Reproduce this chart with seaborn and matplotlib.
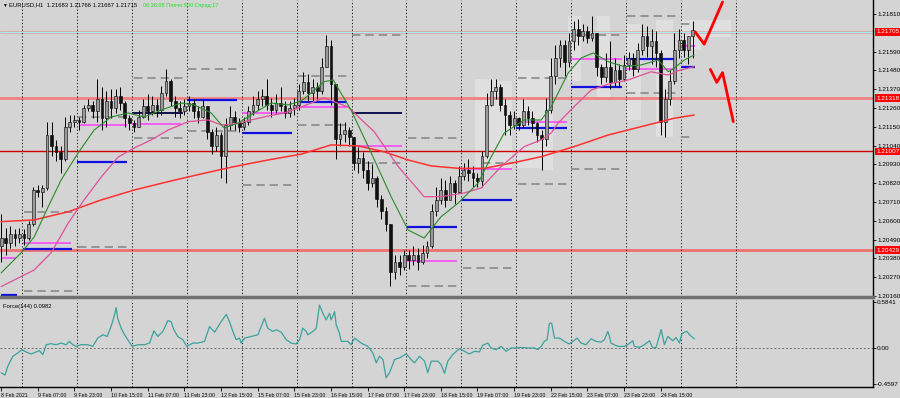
import numpy as np
import pandas as pd
import matplotlib
matplotlib.use("Agg")
import matplotlib.pyplot as plt
import seaborn as sns
from matplotlib.patches import Rectangle

# EURUSD H1, drawn as 2-hour candles. Prices are pips above 1.20000
first_open = 45
closes = [50, 47, 52, 50, 52, 50, 58, 78, 77, 79,
          110, 104, 100, 96, 115, 118, 119, 118, 126, 128,
          124, 131, 120, 130, 126, 133, 129, 120, 117, 115,
          121, 127, 124, 128, 125, 135, 142, 130, 126, 124,
          127, 129, 124, 121, 127, 112, 104, 110, 98, 116,
          121, 118, 115, 118, 124, 128, 131, 133, 128, 125,
          129, 127, 123, 126, 128, 136, 141, 135, 138, 136,
          150, 162, 140, 108, 111, 113, 109, 94, 97, 90,
          82, 85, 73, 66, 58, 30, 36, 33, 40, 37,
          40, 36, 41, 45, 66, 72, 78, 72, 82, 77,
          86, 90, 88, 85, 83, 98, 128, 136, 138, 128,
          122, 116, 120, 116, 124, 120, 117, 110, 108, 125,
          145, 155, 163, 153, 165, 172, 168, 171, 167, 170,
          150, 144, 150, 141, 148, 143, 151, 155, 149, 160,
          168, 162, 165, 158, 118, 131, 142, 160, 166, 160,
          168, 171.5]
highs = [64, 56, 57, 55, 56, 55, 60, 80, 81, 81,
         118, 118, 107, 104, 121, 122, 122, 121, 128, 131,
         130, 143, 138, 136, 137, 137, 138, 130, 122, 119,
         125, 131, 134, 133, 131, 139, 149, 143, 133, 130,
         131, 133, 131, 127, 131, 127, 114, 115, 112, 120,
         127, 124, 120, 121, 127, 133, 136, 137, 143, 132,
         134, 138, 130, 130, 132, 140, 147, 146, 143, 141,
         155, 169, 166, 128, 117, 118, 115, 108, 103, 100,
         95, 93, 86, 75, 68, 57, 40, 40, 43, 43,
         45, 44, 46, 48, 70, 80, 85, 84, 86, 84,
         92, 94, 96, 92, 88, 101, 135, 143, 143, 140,
         131, 124, 124, 121, 131, 127, 124, 118, 113, 132,
         155, 163, 166, 166, 170, 177, 178, 175, 174, 180,
         170, 152, 158, 165, 155, 152, 157, 159, 158, 164,
         175, 174, 172, 171, 160, 137, 148, 170, 172, 170,
         166, 177]
lows = [36, 40, 44, 45, 47, 46, 49, 57, 74, 68,
        78, 98, 95, 88, 95, 112, 115, 113, 117, 124,
        120, 118, 113, 115, 120, 123, 125, 115, 113, 112,
        115, 120, 119, 122, 121, 122, 133, 127, 121, 120,
        122, 124, 120, 117, 120, 108, 99, 101, 85, 82,
        113, 113, 112, 113, 116, 122, 125, 127, 125, 121,
        123, 124, 120, 121, 122, 125, 134, 130, 130, 131,
        134, 150, 128, 96, 104, 106, 104, 90, 88, 85,
        78, 80, 68, 61, 54, 22, 26, 28, 31, 32,
        34, 31, 35, 38, 44, 63, 70, 68, 72, 70,
        76, 84, 83, 80, 80, 80, 97, 127, 131, 124,
        110, 110, 114, 113, 115, 116, 112, 106, 90, 104,
        123, 140, 150, 145, 150, 160, 163, 165, 164, 165,
        145, 140, 141, 137, 139, 138, 142, 148, 145, 147,
        157, 156, 152, 150, 110, 109, 128, 140, 155, 156,
        152, 155]

# moving averages (hour, pips)
ma_fast_h = [0, 8.7, 14.4, 20.5, 26.2, 33.6, 40.6, 48, 55.5, 62.4, 69.9, 78.6, 84.3, 91.7, 97.4,
             103.5, 110.5, 117.9, 125.3, 131, 135.4, 141, 145, 152.8, 161.6, 170.3, 177.7, 184.7,
             192.1, 199.6, 208.3, 214, 219.7, 228.4, 235.8, 240.2, 247.6, 253.3, 258.5, 265.1,
             272, 279.5, 286.9, 291.3, 293.9, 298.3, 302.6]
ma_fast_p = [29.5, 41.2, 50.5, 68.1, 83.9, 99.7, 113.1, 120.7, 123.1, 120.7, 124.8, 128.9, 127.8,
             123.1, 114.3, 117.2, 123.1, 128.9, 127.8, 130.1, 134.8, 141.4, 142.4, 124.8, 99.7,
             74.1, 54.6, 49.9, 62.4, 70.4, 82.1, 97.5, 111.4, 119, 119, 126.8, 146.5, 155.3,
             158.2, 153.1, 150.2, 151.2, 154.1, 147.2, 149.4, 154.1, 157]
ma_mid_h = [0, 14.4, 21.8, 29.3, 36.2, 43.7, 51.1, 58.1, 65.5, 72.9, 81.7, 90.4, 96.1, 101.7, 109.2,
            116.6, 123.6, 131, 141, 151.5, 162.9, 173.4, 184.7, 192.1, 202.2, 209.6, 218.3, 228.4,
            235.8, 240.2, 243.2, 250.2, 257.6, 265.1, 273.8, 283.8, 291.3, 295.6, 302.6]
ma_mid_p = [21.5, 31.2, 41.2, 58.7, 72.2, 85.6, 97.3, 102.6, 107.3, 113.1, 118, 119, 116.1, 116.6,
            119, 121.3, 123.1, 126.6, 131.9, 126.6, 112.1, 91.7, 74.1, 74.1, 76.3, 79.2, 91.7,
            103.4, 107.3, 111.4, 117.2, 126.8, 136.5, 140, 142.4, 147.2, 145.3, 147.8, 150.2]
ma_slow_h = [0, 14.4, 29.3, 43.7, 58.1, 72.9, 87.3, 101.7, 116.6, 131, 144.1, 155.9, 167.2, 177.7,
             187.8, 199.6, 210.9, 222.7, 235.8, 250.2, 265.1, 279.5, 293.9, 302.6]
ma_slow_p = [59.5, 60.5, 65.3, 72.2, 78, 82.9, 87.4, 91.7, 95.6, 99, 104.4, 103.8, 100.4, 95.6,
             92.1, 90.7, 90.7, 93.7, 97.5, 103.4, 110.2, 115.1, 120, 121.9]

# daily level segments (start hour, end hour, pips)
blue_segs = [(0, 7, 16.6), (9.6, 31, 43.7), (33, 55, 94.2), (81, 103, 130.5), (105, 127, 111.2),
             (129, 151, 129.5), (177, 199, 56.2), (201, 223, 72), (225, 247, 114.2),
             (249, 271, 138.1), (273, 295, 154.5), (297, 303, 149.8)]
navy_segs = [(57, 79.5, 122.9), (153, 175, 122.9)]
magenta_segs = [(0, 6.5, 38.3), (9.6, 30.6, 47.2), (34, 55, 116), (57, 78.6, 116.5),
                (105, 126.6, 122.9), (129, 151, 126.4), (153, 175, 104), (177, 199, 36.5),
                (201, 223, 90.3), (225, 247, 117.8), (249, 271, 154.7), (273, 295, 148.7),
                (297, 303, 162.5)]
dashed_segs = [(10, 32, 65), (10, 32, 19.1), (33.6, 56, 120.9), (33.6, 56, 44.8),
               (58, 80, 143.4), (58, 80, 108.3), (81.7, 103.5, 148.6), (81.7, 103.5, 112.7),
               (105.7, 128, 81), (129.7, 151.5, 144.7), (129.7, 151.5, 115.9),
               (153, 175.5, 168.7), (153, 175, 94), (177.7, 199.6, 108.3), (177.7, 199.6, 22),
               (201.7, 223.6, 32.2), (210, 223.6, 93.6), (225.8, 248, 81.6), (225.8, 248, 143.8),
               (249, 271.6, 90.3), (249, 271.6, 168.7), (273.4, 295.6, 180), (273.4, 295.6, 134.6),
               (297, 302, 175), (297, 302, 108.9)]

# light zones (start hour, end hour, low pips, high pips)
zones = [(207, 216, 91, 143), (216, 223, 91, 142), (225, 237, 91, 154), (236, 241, 90, 154),
         (247.6, 253, 142, 180), (260, 266, 131, 180), (273, 279.5, 119, 175),
         (286, 293.4, 109, 177.5), (297, 305.7, 160, 177.5), (305.7, 318.8, 167.5, 177.5)]

# forecast zigzags (hour, pips)
zig_up_h = [303, 307, 315]
zig_up_p = [170.6, 163.4, 188]
zig_dn_h = [309.7, 312.5, 315, 319.7]
zig_dn_p = [148.6, 141, 146.7, 118]

levels = [1.21705, 1.21318, 1.21007, 1.20429]
level_colors = ['#e00000', '#f08080', '#d00000', '#f07070']
level_widths = [1.0, 2.0, 1.0, 2.0]

price_ticks = [1.20160, 1.20270, 1.20380, 1.20490, 1.20600, 1.20710, 1.20820, 1.20930,
               1.21040, 1.21150, 1.21260, 1.21370, 1.21480, 1.21590, 1.21810]

# Force(144) (hour, value)
force_h = [0, 1.7, 2.9, 5.1, 7.3, 9.0, 10.9, 13.1, 15.3, 16.7, 18.2, 19.7, 21.8, 24.0, 26.2, 28.4,
           29.8, 31.3, 32.8, 34.9, 37.8, 40.0, 42.2, 44.4, 46.3, 48.0, 49.5, 50.2, 50.9, 52.4,
           53.9, 55.3, 57.2, 59.7, 62.6, 64.8, 66.7, 68.4, 70.6, 72.8, 74.2, 75.4, 77.1, 79.3,
           81.1, 83.7, 85.9, 88.8, 91.0, 93.2, 96.1, 98.3, 99.7, 101.2, 102.6, 104.1, 104.8,
           106.3, 109.2, 112.1, 115.0, 116.4, 118.6, 120.1, 122.3, 124.5, 126.6, 128.8, 130.3,
           131.7, 133.2, 133.9, 136.1, 137.6, 139.0, 140.5, 141.9, 143.4, 144.1, 145.6, 146.3,
           147.7, 148.5, 151.4, 152.8, 154.3, 157.2, 160.1, 162.3, 163.8, 165.2, 166.7, 168.1,
           169.6, 171.8, 173.9, 176.9, 179.0, 180.5, 182.7, 184.9, 186.3, 187.8, 190.7, 192.1,
           193.6, 195.0, 197.2, 200.1, 202.3, 204.5, 206.7, 208.8, 210.3, 212.5, 213.9, 216.1,
           218.3, 220.5, 222.7, 224.9, 227.0, 230.0, 232.9, 234.3, 235.8, 237.2, 238.4, 239.4,
           240.4, 241.6, 243.8, 245.9, 248.1, 249.6, 251.5, 253.2, 255.4, 257.6, 259.8, 262.0,
           263.4, 264.9, 265.6, 266.3, 269.2, 272.2, 273.6, 275.8, 276.5, 278.7, 280.9, 283.1,
           284.5, 286.0, 288.2, 289.6, 291.1, 293.3, 294.7, 296.2, 297.2, 298.4, 299.5, 300.6,
           302.7]
force_v = [-0.317, -0.347, -0.233, -0.106, -0.063, -0.021, -0.051, -0.076, -0.051, -0.034, -0.085,
           0.042, 0.055, 0.042, 0.063, 0.042, 0.085, 0.042, 0.021, 0.042, 0.042, 0.021, 0.127,
           0.169, 0.148, 0.275, 0.423, 0.516, 0.381, 0.254, 0.169, 0.106, 0.021, 0.042, 0.042,
           0.063, 0.220, 0.148, 0.212, 0.351, 0.338, 0.233, 0.148, 0.106, 0.021, 0.063, 0.063,
           0.085, 0.275, 0.203, 0.338, 0.431, 0.338, 0.212, 0.106, 0.127, 0.063, 0.127, 0.148,
           0.169, 0.381, 0.254, 0.212, 0.233, 0.203, 0.106, 0.063, 0.051, 0.106, 0.254, 0.212,
           0.169, 0.212, 0.254, 0.550, 0.444, 0.360, 0.444, 0.360, 0.465, 0.296, 0.190, 0.085,
           0.085, 0.042, 0.127, 0.063, 0.021, -0.063, -0.190, -0.106, -0.148, -0.381, -0.317,
           -0.148, -0.127, -0.076, -0.148, -0.190, -0.106, -0.169, -0.317, -0.169, -0.169,
           -0.212, -0.326, -0.169, -0.085, -0.008, -0.042, -0.076, -0.042, -0.051, 0.034, 0.063,
           0.0, -0.021, 0.021, -0.042, 0.0, 0.0, 0.008, 0.0, 0.0, -0.021, 0.021, 0.085, 0.106,
           0.317, 0.317, 0.127, 0.127, 0.085, 0.051, 0.085, 0.127, 0.063, 0.042, 0.118, 0.085,
           0.076, 0.106, 0.212, 0.148, 0.063, 0.021, 0.021, 0.042, 0.093, 0.021, 0.008, 0.042,
           0.093, 0.0, 0.008, 0.237, 0.042, 0.148, 0.093, 0.135, 0.063, 0.178, 0.203, 0.212,
           0.169, 0.118]

time_labels = ['8 Feb 2021', '9 Feb 07:00', '9 Feb 23:00', '10 Feb 15:00', '11 Feb 07:00',
               '11 Feb 23:00', '12 Feb 15:00', '15 Feb 07:00', '15 Feb 23:00', '16 Feb 15:00',
               '17 Feb 07:00', '17 Feb 23:00', '18 Feb 15:00', '19 Feb 07:00', '19 Feb 23:00',
               '22 Feb 15:00', '23 Feb 07:00', '23 Feb 23:00', '24 Feb 15:00']


def px(p):
    return 1.2 + np.asarray(p, dtype=float) / 10000.0


bg = '#d4d4d4'
sns.set_style('white', {'axes.facecolor': bg, 'figure.facecolor': bg})
plt.rcParams['font.family'] = ['Liberation Sans', 'DejaVu Sans']

fig = plt.figure(figsize=(9, 3.98), dpi=100)
ax = fig.add_axes([0, 1 - 297 / 398, 873 / 900, 297 / 398])
axf = fig.add_axes([0, 1 - 387 / 398, 873 / 900, 87 / 398], sharex=ax)

# candles
n = len(closes)
xs = np.arange(n) * 2.0
opens = np.array([first_open] + closes[:-1], dtype=float)
cl = np.array(closes, dtype=float)
hi = np.maximum(np.array(highs, dtype=float), np.maximum(opens, cl))
lo = np.minimum(np.array(lows, dtype=float), np.minimum(opens, cl))
df = pd.DataFrame({'x': xs, 'open': px(opens), 'close': px(cl), 'high': px(hi), 'low': px(lo)})

# zones behind the candles
for h0, h1, p0, p1 in zones:
    ax.add_patch(Rectangle((h0, px(p0)), h1 - h0, px(p1) - px(p0), facecolor='#dfdfdf',
                           edgecolor='none', zorder=0.5))

# full width levels
for lv, c, w in zip(levels, level_colors, level_widths):
    ax.axhline(lv, color=c, lw=w, zorder=1)
ax.axhline(levels[0] - 0.00003, color='#a8f0f0', lw=0.8, zorder=1)

# daily grid
for g in range(9, 330, 24):
    ax.axvline(g, color='black', lw=0.6, ls=(0, (1.5, 2.5)), zorder=1)
    axf.axvline(g, color='black', lw=0.6, ls=(0, (1.5, 2.5)), zorder=1)

for h0, h1, p in dashed_segs:
    ax.hlines(px(p), h0, h1, color='#8a8a8a', lw=1.2, ls=(0, (5, 3)), zorder=2)
for h0, h1, p in magenta_segs:
    ax.hlines(px(p), h0, h1, color='#ff3cff', lw=1.1, zorder=2)
for h0, h1, p in blue_segs:
    ax.hlines(px(p), h0, h1, color='#1010e0', lw=1.6, zorder=2)
for h0, h1, p in navy_segs:
    ax.hlines(px(p) + 0.00003, h0, h1, color='#e8e070', lw=0.8, zorder=2)
    ax.hlines(px(p), h0, h1, color='#101050', lw=1.4, zorder=2)

ax.vlines(df['x'], df['low'], df['high'], color='black', lw=0.7, zorder=3)
up = df['close'] >= df['open']
body = (df['close'] - df['open']).abs().clip(lower=0.00002)
ax.bar(df['x'], body, bottom=df[['open', 'close']].min(axis=1), width=1.2,
       color=np.where(up, '#9a9a9a', '#111111'), edgecolor='black', linewidth=0.4, zorder=4)

sns.lineplot(x=ma_slow_h, y=px(ma_slow_p), ax=ax, color='#ff3030', lw=1.1, sort=False,
             estimator=None, zorder=5)
sns.lineplot(x=ma_mid_h, y=px(ma_mid_p), ax=ax, color='#e0509a', lw=0.9, sort=False,
             estimator=None, zorder=5)
sns.lineplot(x=ma_fast_h, y=px(ma_fast_p), ax=ax, color='#2a8a2a', lw=0.8, sort=False,
             estimator=None, zorder=5)

sns.lineplot(x=zig_up_h, y=px(zig_up_p), ax=ax, color='#ff0000', lw=2.0, sort=False,
             estimator=None, zorder=6)
sns.lineplot(x=zig_dn_h, y=px(zig_dn_p), ax=ax, color='#ff0000', lw=2.0, sort=False,
             estimator=None, zorder=6)

ax.set_xlim(-0.5, 380.7)
ax.set_ylim(1.20154, 1.21892)
ax.yaxis.tick_right()
ax.set_yticks(price_ticks)
ax.set_yticklabels([f'{t:.5f}' for t in price_ticks])
ax.tick_params(axis='y', length=2, width=0.6, pad=1, labelsize=4.6, colors='black', right=True)
ax.tick_params(axis='x', bottom=False, labelbottom=False)
ax.set_xlabel('')
ax.set_ylabel('')
for s in ['left', 'top']:
    ax.spines[s].set_visible(False)
ax.spines['right'].set_color('black')
ax.spines['right'].set_linewidth(1.0)
ax.spines['bottom'].set_color('#707070')
ax.spines['bottom'].set_linewidth(2.5)

for lv in levels:
    ax.text(1.004, lv, f'{lv:.5f}', transform=ax.get_yaxis_transform(), fontsize=4.6,
            color='white', va='center', ha='left', clip_on=False, zorder=10,
            bbox=dict(boxstyle='square,pad=0.18', fc='#ff0000', ec='none'))

# Force panel
axf.axhline(0, color='#707070', lw=0.7, ls=(0, (2, 2)), zorder=1)
sns.lineplot(x=force_h, y=force_v, ax=axf, color='#3aa39c', lw=0.9, sort=False,
             estimator=None, zorder=3)
axf.set_ylim(-0.50, 0.615)
axf.yaxis.tick_right()
axf.set_yticks([0.5841, 0.0, -0.4597])
axf.set_yticklabels(['0.5841', '0.00', '-0.4597'])
axf.tick_params(axis='y', length=2, width=0.6, pad=1, labelsize=4.6, colors='black', right=True)
axf.set_xticks(np.arange(0, 289, 16))
axf.set_xticklabels(time_labels)
axf.tick_params(axis='x', length=3, width=0.6, pad=1, labelsize=3.8, colors='black', bottom=True)
for lab in axf.get_xticklabels():
    lab.set_horizontalalignment('left')
axf.set_xlabel('')
axf.set_ylabel('')
for s in ['left', 'top']:
    axf.spines[s].set_visible(False)
for s in ['right', 'bottom']:
    axf.spines[s].set_color('black')
    axf.spines[s].set_linewidth(1.0)
axf.text(3 / 873, 0.93, 'Force(144) 0.0982', transform=axf.transAxes, fontsize=4.2,
         color='black', va='center', ha='left')

# header
fig.text(2 / 900, 1 - 5 / 398, '▼', fontsize=3.5, color='black', va='center', ha='left')
fig.text(9 / 900, 1 - 5 / 398, 'EURUSD,H1  1.21683 1.21766 1.21667 1.21715', fontsize=4.2,
         color='black', va='center', ha='left')
fig.text(143 / 900, 1 - 5 / 398, '06:38:08 Плечо:500 Спред:17', fontsize=4.0,
         color='#22e022', va='center', ha='left')

fig.savefig('out.png', dpi=100, facecolor=bg)
